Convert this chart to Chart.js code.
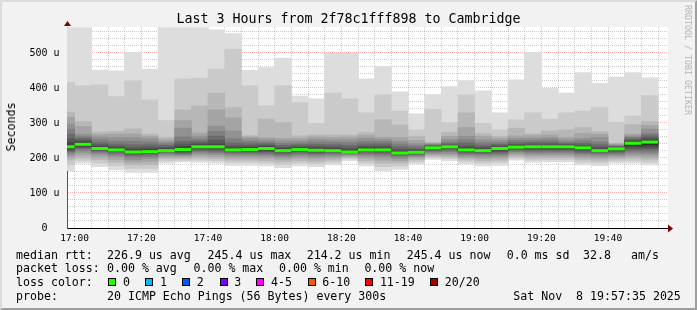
<!DOCTYPE html>
<html>
<head>
<meta charset="utf-8">
<script src="https://cdn.jsdelivr.net/npm/chart.js@4.4.1/dist/chart.umd.min.js"></script>
<style>
  body { margin: 0; background: #f2f2f2; }
  #wrap { position: relative; width: 697px; height: 310px; background: #f2f2f2; overflow: hidden;
          font-family: "DejaVu Sans Mono", monospace; color: #000; }
  #wrap canvas { position: absolute; left: 0; top: 0; }
  #edge { position: absolute; left: 0; top: 0; width: 693px; height: 306px; pointer-events: none;
          border-top: 2px solid #dcdcdc; border-left: 2px solid #dcdcdc;
          border-right: 2px solid #9e9e9e; border-bottom: 2px solid #9e9e9e; }
  .t { position: absolute; white-space: pre; font-size: 11.6px; line-height: 14px; }
  .box { position: absolute; width: 6px; height: 6px; border: 1px solid #000; top: 278px; }
  #title { position: absolute; left: 0; width: 697px; top: 11px; text-align: center;
           font-size: 13.3px; line-height: 16px; white-space: pre; }
  #ylab { position: absolute; left: 11px; top: 127px; font-size: 11.6px; line-height: 14px;
          transform: translate(-50%, -50%) rotate(-90deg); white-space: pre; }
  #sig { position: absolute; left: 688px; top: 60px; font-size: 8.3px; line-height: 10px; color: #b4b4b4;
         transform: translate(-50%, -50%) rotate(90deg); white-space: pre; }
</style>
</head>
<body>
<div id="wrap">
  <canvas id="smoke" width="697" height="310"></canvas>
  <div id="title">Last 3 Hours from 2f78c1fff898 to Cambridge</div>
  <div id="ylab">Seconds</div>
  <div id="sig">RRDTOOL / TOBI OETIKER</div>
  <div id="legend"></div>
  <div id="edge"></div>
</div>
<script>
// 5 minute slots, each with 20 sorted pings (microseconds)
const slotStart = ["16:55","17:00","17:05","17:10","17:15","17:20","17:25","17:30","17:35","17:40",
  "17:45","17:50","17:55","18:00","18:05","18:10","18:15","18:20","18:25","18:30","18:35","18:40",
  "18:45","18:50","18:55","19:00","19:05","19:10","19:15","19:20","19:25","19:30","19:35","19:40",
  "19:45","19:50"];

const medianRtt = [232,239,227,223,217,218,221,224,232,232,223,224,227,221,224,222,221,217,223,223,
  214.2,216,229,232,223,221,227,231,232,232,232,229,221,226,242,245.4];

const sortedPings = [
  [164,180,194,202,208,214,218,222,226,229,236,244,255,268,282,297,316,331,416,572],
  [185,193,200,208,216,222,227,230,233,236,242,246,251,256,261,268,290,304,406,572],
  [175,186,195,203,210,215,219,222,224,226,229,233,238,244,252,260,267,274,409,451],
  [166,178,188,196,204,210,214,218,220,222,225,229,234,240,248,258,268,276,375,449],
  [159,170,180,188,195,202,207,211,214,216,219,224,230,238,248,258,269,283,420,502],
  [159,170,181,190,198,204,209,213,215,217,220,225,231,238,246,255,262,268,366,454],
  [185,192,198,203,208,212,215,218,220,222,224,227,231,236,241,246,252,259,307,572],
  [189,193,198,203,207,210,213,216,219,222,227,233,240,248,260,285,307,337,426,572],
  [187,194,200,206,212,217,221,225,228,230,234,238,243,248,254,262,271,349,428,572],
  [185,192,198,204,210,215,219,223,227,230,234,240,250,262,276,291,337,385,454,566],
  [179,187,194,200,206,211,215,218,221,222,225,229,235,243,255,277,315,344,511,555],
  [179,187,194,200,206,211,215,218,221,223,226,230,235,241,248,255,260,264,406,450],
  [177,185,192,199,205,210,214,218,222,225,229,233,237,241,246,252,258,311,349,458],
  [172,181,189,196,202,207,211,215,218,220,223,227,231,236,242,249,256,301,406,485],
  [177,185,192,199,205,210,214,218,221,223,226,229,233,238,243,249,256,263,358,377],
  [175,183,190,197,203,208,212,216,219,221,224,228,233,239,246,253,260,266,299,369],
  [180,187,194,200,205,210,214,217,219,221,223,227,232,238,245,252,259,266,385,499],
  [192,197,201,205,208,211,213,215,216,217,219,223,229,236,244,252,260,266,369,499],
  [177,185,192,199,205,210,214,218,221,223,225,229,234,240,248,256,264,272,329,426],
  [164,175,185,194,202,208,213,217,220,222,225,229,234,240,247,253,259,309,380,461],
  [168,177,185,192,198,203,207,210,212,213,215,219,225,232,240,248,259,294,334,389],
  [183,189,195,200,204,207,210,212,214,215,217,220,224,229,235,241,250,262,280,326],
  [196,201,205,209,213,217,220,223,226,228,230,232,234,236,238,240,242,245,339,380],
  [192,198,203,208,213,218,222,226,229,231,233,235,238,241,246,253,262,273,301,404],
  [183,190,196,201,206,210,214,217,220,222,225,229,235,243,252,262,287,329,380,420],
  [177,185,192,198,204,209,213,216,219,220,222,226,231,237,244,252,262,270,299,392],
  [179,187,194,200,205,210,214,218,222,225,228,231,235,239,244,250,256,262,280,329],
  [194,199,204,209,214,218,222,225,228,230,232,235,239,244,250,256,263,285,309,423],
  [187,194,200,206,211,216,220,224,228,231,233,236,240,245,250,256,264,269,329,502],
  [189,195,201,206,211,216,220,224,227,230,233,236,240,245,251,258,266,277,311,399],
  [189,195,201,206,211,216,220,224,227,230,233,236,239,242,246,252,259,280,329,385],
  [180,188,195,201,207,212,216,220,224,227,230,233,237,242,249,256,270,287,334,444],
  [178,186,193,199,205,210,214,217,219,220,222,226,231,238,246,259,268,275,344,413],
  [185,191,197,202,207,211,215,219,222,225,227,229,231,233,235,237,240,242,302,431],
  [185,192,199,205,211,217,222,227,232,236,243,247,251,255,259,263,268,295,320,444],
  [180,188,196,203,210,216,222,227,232,238,247,252,258,264,270,282,293,304,378,429]
];

const timeLabels = ["17:00","17:20","17:40","18:00","18:20","18:40","19:00","19:20","19:40"];
const yLabels = [0, 100, 200, 300, 400, 500];

const legendRows = [
  [["median rtt:", 16], ["226.9 us avg", 107], ["245.4 us max", 207.6], ["214.2 us min", 306.7],
   ["245.4 us now", 406.7], ["0.0 ms sd", 506.7], ["32.8", 583], ["am/s", 631]],
  [["packet loss:", 16], ["0.00 % avg", 107], ["0.00 % max", 193.5], ["0.00 % min", 279], ["0.00 % now", 364.4]],
  [["loss color:", 16]],
  [["probe:", 16], ["20 ICMP Echo Pings (56 Bytes) every 300s", 107], ["Sat Nov  8 19:57:35 2025", 513.3]]
];
const lossNames = ["0", "1", "2", "3", "4-5", "6-10", "11-19", "20/20"];
const lossColors = ["#26ff00", "#00b8ff", "#0059ff", "#7e00ff", "#ff00ff", "#ff5500", "#ff0000", "#a10000"];
const lossX = [108.4, 145.3, 182.2, 219.6, 256.4, 307.6, 365.3, 430.2];

// legend text
const legend = document.getElementById('legend');
const rowTop = [247.7, 261.3, 275, 288.7];
legendRows.forEach((row, r) => {
  row.forEach(([txt, x]) => {
    const d = document.createElement('div');
    d.className = 't'; d.textContent = txt;
    d.style.left = x + 'px'; d.style.top = rowTop[r] + 'px';
    legend.appendChild(d);
  });
});
lossNames.forEach((n, i) => {
  const b = document.createElement('div');
  b.className = 'box'; b.style.left = lossX[i] + 'px'; b.style.background = lossColors[i];
  legend.appendChild(b);
  const d = document.createElement('div');
  d.className = 't'; d.textContent = n;
  d.style.left = (lossX[i] + 14.6) + 'px'; d.style.top = rowTop[2] + 'px';
  legend.appendChild(d);
});

const toMin = s => { const [h, m] = s.split(':').map(Number); return h * 60 + m - 17 * 60; };
const slotMid = slotStart.map(s => toMin(s) + 2.5);
const gridMin = slotStart.map(s => toMin(s) + 5);
const labelAt = {};
timeLabels.forEach(t => { labelAt[toMin(t)] = t; });

const MAJOR = 'rgba(255,0,0,0.3)';
const MINOR = 'rgba(128,128,128,0.4)';
const grey = i => {
  const v = Math.floor(190 / 10 * (10 - i)) + 50;
  return 'rgb(' + v + ',' + v + ',' + v + ')';
};

const datasets = [];
for (let i = 0; i < 10; i++) {
  datasets.push({
    type: 'bar',
    data: sortedPings.map((p, k) => ({ x: slotMid[k], y: [p[i], p[19 - i]] })),
    backgroundColor: grey(i + 1),
    borderWidth: 0,
    grouped: false,
    barPercentage: 1,
    categoryPercentage: 1,
    order: 20 - i
  });
}
datasets.push({
  type: 'scatter',
  data: medianRtt.map((m, k) => ({ x: slotMid[k], y: m })),
  pointStyle: 'line',
  pointRadius: c => (c.chart.scales.x.getPixelForValue(5) - c.chart.scales.x.getPixelForValue(0)) / 2,
  borderColor: lossColors[0],
  borderWidth: 3,
  clip: 0,
  order: 0
});

const frame = {
  id: 'frame',
  beforeDraw(chart) {
    const { ctx, chartArea: a } = chart;
    ctx.save();
    ctx.fillStyle = '#ffffff';
    ctx.fillRect(a.left, a.top, a.right - a.left + 1, a.bottom - a.top);
    ctx.restore();
  },
  afterDraw(chart) {
    const { ctx, chartArea: a } = chart;
    ctx.save();
    ctx.fillStyle = '#7f0000';
    ctx.beginPath();
    ctx.moveTo(a.left - 3, a.top - 1); ctx.lineTo(a.left + 0.5, a.top - 6); ctx.lineTo(a.left + 4, a.top - 1);
    ctx.closePath(); ctx.fill();
    ctx.beginPath();
    ctx.moveTo(a.right + 1, a.bottom - 3.5); ctx.lineTo(a.right + 6, a.bottom + 0.5); ctx.lineTo(a.right + 1, a.bottom + 4.5);
    ctx.closePath(); ctx.fill();
    ctx.restore();
  }
};

new Chart(document.getElementById('smoke'), {
  type: 'bar',
  data: { datasets },
  plugins: [frame],
  options: {
    responsive: false,
    animation: false,
    devicePixelRatio: 1,
    events: [],
    layout: { padding: { top: 27, right: 30, left: 0, bottom: 0 } },
    plugins: { legend: { display: false }, tooltip: { enabled: false }, title: { display: false } },
    scales: {
      x: {
        type: 'linear',
        min: -2.3,
        max: 177.7,
        offset: false,
        z: 1,
        afterFit: s => { s.height = 82; },
        afterBuildTicks: s => { s.ticks = gridMin.map(v => ({ value: v })); },
        grid: { offset: false, drawTicks: false, color: c => (c.tick && labelAt[c.tick.value]) ? MAJOR : MINOR },
        border: { display: true, color: '#000', dash: [1, 1] },
        ticks: {
          autoSkip: false, maxRotation: 0, padding: 5, color: '#000',
          font: { family: 'DejaVu Sans Mono', size: 9.5 },
          callback: v => labelAt[v] || ''
        }
      },
      y: {
        min: 0,
        max: 574,
        z: 1,
        afterFit: s => { s.width = 67; },
        afterBuildTicks: s => {
          const t = [];
          for (let v = 0; v <= 560; v += 20) t.push({ value: v });
          s.ticks = t;
        },
        grid: { drawTicks: false, color: c => (c.tick && c.tick.value % 100 === 0) ? MAJOR : MINOR },
        border: { display: true, color: '#555', dash: [1, 1] },
        ticks: {
          autoSkip: false, padding: 7.5, color: '#000',
          font: { family: 'DejaVu Sans Mono', size: 10 },
          callback: v => yLabels.includes(v) ? (v === 0 ? '0  ' : v + ' u') : ''
        }
      }
    }
  }
});
</script>
</body>
</html>
